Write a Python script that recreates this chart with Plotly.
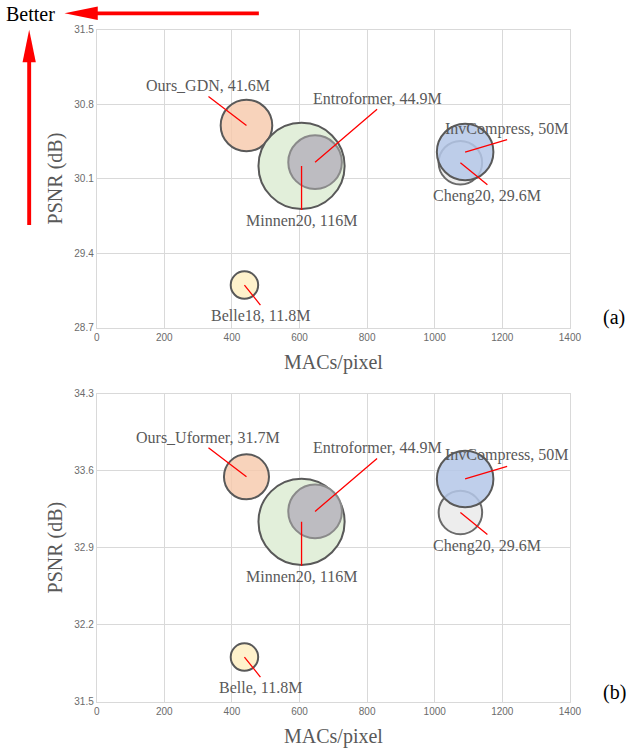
import plotly.graph_objects as go

W, H = 640, 754

# bubble data
models_a = ["Belle18", "Ours_GDN", "Minnen20", "Entroformer", "Cheng20", "InvCompress"]
models_b = ["Belle", "Ours_Uformer", "Minnen20", "Entroformer", "Cheng20", "InvCompress"]
params_a = [11.8, 41.6, 116, 44.9, 29.6, 50]
params_b = [11.8, 31.7, 116, 44.9, 29.6, 50]
macs = [437, 443, 606, 646, 1076, 1090]
psnr_a = [29.10, 30.60, 30.22, 30.255, 30.25, 30.35]
psnr_b = [31.905, 33.545, 33.135, 33.23, 33.22, 33.525]

x_ticks = [0, 200, 400, 600, 800, 1000, 1200, 1400]
y_ticks_a = [28.7, 29.4, 30.1, 30.8, 31.5]
y_ticks_b = [31.5, 32.2, 32.9, 33.6, 34.3]

fills = ["#FFF2CC", "rgba(246,200,170,0.8)", "#E2EFDA", "rgba(186,184,192,0.95)",
         "#EDEDED", "rgba(180,199,231,0.85)"]
edges = ["#595959", "#595959", "#595959", "#8a8a8a", "#6a6a6a", "#595959"]
# label tail offsets (px) from bubble centre, and which side of the text sits on the tail
label_off = [(16, 20, "top"), (-38, -29, "bottom"), (0, 44, "top"),
             (62, -53, "bottom"), (27, 22, "top"), (42, -12.5, "bottom")]

SERIF = "Liberation Serif"
GREY = "#595959"


def px(x, y):
    return x / W, 1 - y / H


fig = go.Figure()

xdom = [96 / W, 580.5 / W]
panels = [
    ("x", "y", psnr_a, params_a, models_a, y_ticks_a, [1 - 327 / H, 1 - 25 / H]),
    ("x2", "y2", psnr_b, params_b, models_b, y_ticks_b, [1 - 706 / H, 1 - 394 / H]),
]

annotations = []
for xa, ya, psnr, prm, names, yt, ydom in panels:
    fig.add_trace(go.Scatter(
        x=macs, y=psnr, xaxis=xa, yaxis=ya, mode="markers",
        marker=dict(size=prm, sizemode="area", sizeref=1 / 32, color=fills,
                    line=dict(color=edges, width=2), opacity=1),
        hoverinfo="skip", showlegend=False))
    for i, name in enumerate(names):
        ax, ay, yanc = label_off[i]
        annotations.append(dict(
            x=macs[i], y=psnr[i], xref=xa, yref=ya, ax=ax, ay=ay,
            text="{}, {}M".format(name, prm[i]), showarrow=True, arrowhead=0,
            arrowcolor="red", arrowwidth=1.3, standoff=0, startstandoff=0,
            xanchor="center", yanchor=yanc,
            font=dict(family=SERIF, size=16, color=GREY)))

    axis_common = dict(showgrid=True, gridcolor="#d9d9d9", gridwidth=1, zeroline=False,
                       showline=True, linecolor="#d9d9d9", linewidth=1, mirror=True,
                       ticks="", tickfont=dict(family="Liberation Sans", size=10, color="#6b6b6b"))
    xkey = "xaxis" if xa == "x" else "xaxis2"
    ykey = "yaxis" if ya == "y" else "yaxis2"
    fig.update_layout(**{
        xkey: dict(axis_common, domain=xdom, anchor=ya, range=[0, 1400],
                   tickvals=x_ticks, ticktext=[str(v) for v in x_ticks]),
        ykey: dict(axis_common, domain=ydom, anchor=xa, range=[yt[0], yt[-1]],
                   tickvals=yt, ticktext=["{:.1f}".format(v) for v in yt]),
    })

# axis titles and panel tags
for cx, cy, txt, ang, col in [
    (338, 362, "MACs/pixel", 0, GREY), (338, 741, "MACs/pixel", 0, GREY),
    (54, 176, "PSNR (dB)", -90, GREY), (54, 550, "PSNR (dB)", -90, GREY),
    (626, 317, "(a)", 0, "black"), (626, 697, "(b)", 0, "black"),
]:
    xp, yp = px(cx, cy)
    annotations.append(dict(x=xp, y=yp, xref="paper", yref="paper", text=txt,
                            showarrow=False, textangle=ang, xanchor="center", yanchor="middle",
                            font=dict(family=SERIF, size=20, color=col)))

bx, by = px(1, 9)
annotations.append(dict(x=bx, y=by, xref="paper", yref="paper", text="Better",
                        showarrow=False, xanchor="left", yanchor="middle",
                        font=dict(family=SERIF, size=20, color="black")))


def poly(points):
    d = ""
    for j, (x, y) in enumerate(points):
        xp, yp = px(x, y)
        d += ("M" if j == 0 else "L") + "{:.5f},{:.5f} ".format(xp, yp)
    return d + "Z"


shapes = [
    # horizontal "better" arrow
    dict(type="path", path=poly([(95, 6.5), (262, 6.5), (262, 10.3), (95, 10.3)])),
    dict(type="path", path=poly([(63, 8.4), (97, 1.6), (97, 15.2)])),
    # vertical "better" arrow
    dict(type="path", path=poly([(24.8, 56), (28.8, 56), (28.8, 223), (24.8, 223)])),
    dict(type="path", path=poly([(26.8, 25), (20, 58), (33.6, 58)])),
]
for s in shapes:
    s.update(xref="paper", yref="paper", fillcolor="red", line=dict(width=0))

fig.update_layout(width=W, height=H, margin=dict(l=0, r=0, t=0, b=0),
                  plot_bgcolor="white", paper_bgcolor="white",
                  annotations=annotations, shapes=shapes)

fig.write_html("out.html", config={"displayModeBar": False},
               post_script="document.body.style.margin='0';")
